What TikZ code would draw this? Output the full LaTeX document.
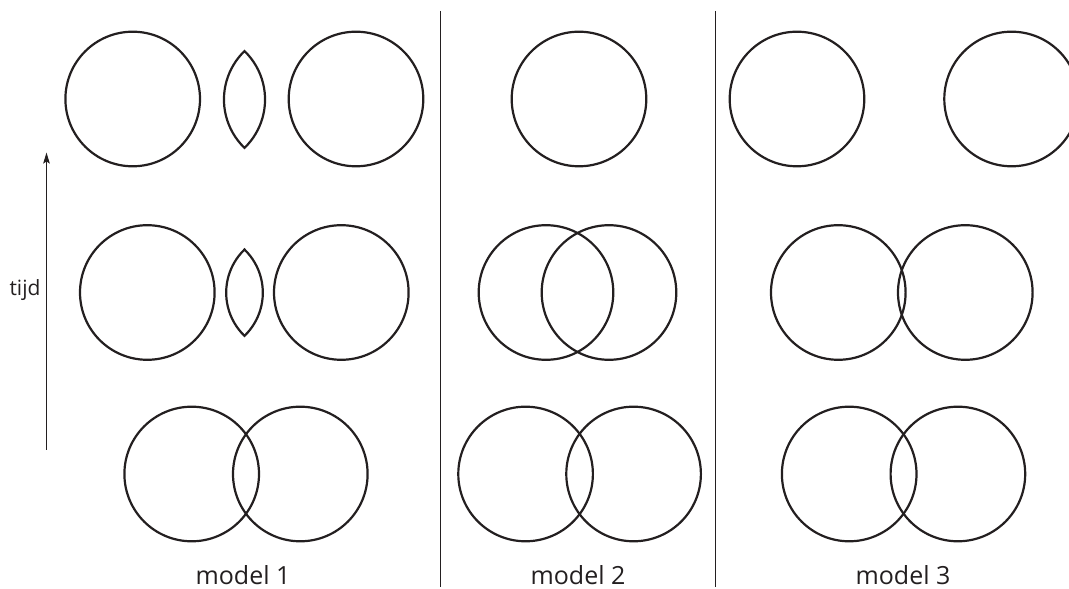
\documentclass[tikz,border=0pt]{standalone}
\usepackage{fontspec}
\setmainfont{Open Sans}
\usetikzlibrary{arrows.meta}
\definecolor{ink}{HTML}{231F20}
\tikzset{
  ring/.style={circle, draw=ink, line width=2.2pt, inner sep=0pt, minimum size=134.6pt},
  divider/.style={draw=ink, line width=1.3pt},
  arr/.style={-{Stealth[length=11pt,width=6.5pt,inset=2pt]}, line width=1.4pt, draw=ink},
  lab/.style={font=\fontsize{25}{30}\selectfont, text=ink, anchor=base, inner sep=0pt},
  pics/lens/.style={code={
    \draw[draw=ink, line width=2.2pt, line join=miter]
      (0,{#1*sin(46)}) arc[start angle=134, end angle=226, radius=#1]
      arc[start angle=-46, end angle=46, radius=#1] -- cycle;
  }},
}
\begin{document}
\begin{tikzpicture}[x=1pt, y=1pt]
    \clip (0,0) rectangle (1069,589);
    % circles: model 1, model 2, model 3 (top, middle, bottom)
    \foreach \x/\y [count=\i] in {
        132.7/490, 356/490, 147.3/296.5, 341.3/296.5, 191.7/115, 300.3/115,
        579/490, 546/296.5, 609/296.5, 525.6/115, 633.6/115,
        797/490, 1011.6/490, 838.3/296.5, 965.3/296.5, 849.2/115, 957.9/115} {
      \node[ring] (c\i) at (\x,\y) {};
    }
    \pic at (244.5,489.5) {lens=67.3};
    \pic at (244.5,296.3) {lens=60};
    % dividers
    \foreach \x in {440.7, 715.4} {
      \draw[divider] (\x,578) -- (\x,2);
    }
    % time axis
    \coordinate (t0) at (46.5,139);
    \coordinate (t1) at (46.5,436.5);
    \draw[arr] (t0) -- (t1);
    \node[lab, font=\fontsize{21}{26}\selectfont] (tijd) at (25,293) {tijd};
    \foreach \x/\name [count=\i] in {243/model 1, 578/model 2, 903/model 3} {
      \node[lab] (m\i) at (\x,4) {\name};
    }
  \end{tikzpicture}
\end{document}
